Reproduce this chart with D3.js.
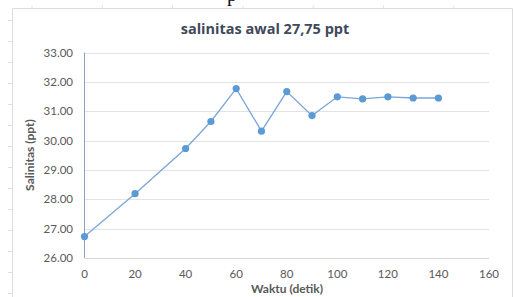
<!DOCTYPE html>
<html>
<head>
<meta charset="utf-8">
<script src="https://cdn.jsdelivr.net/npm/d3@7"></script>
<style>
  body { margin: 0; background: #fff; }
  text { font-family: Lato, "Open Sans", sans-serif; }
</style>
</head>
<body>
<script>
// data
var waktu = [0, 20, 40, 50, 60, 70, 80, 90, 100, 110, 120, 130, 140];
var salinitas = [26.73, 28.19, 29.73, 30.65, 31.77, 30.32, 31.67, 30.85, 31.49, 31.42, 31.49, 31.45, 31.45];
var xTicks = [0, 20, 40, 60, 80, 100, 120, 140, 160];
var yTicks = [26, 27, 28, 29, 30, 31, 32, 33];
var title = "salinitas awal 27,75 ppt";
var xTitle = "Waktu (detik)";
var yTitle = "Salinitas (ppt)";

var width = 513, height = 297;

var svg = d3.select("body").append("svg")
    .attr("width", width)
    .attr("height", height);

// faint frame of the chart object
svg.append("path")
    .attr("d", "M12.5,297 V8.5 H512.5 V297")
    .attr("fill", "none")
    .attr("stroke", "#dcdcdc");

// little ruler marks outside the frame
svg.selectAll(".rl")
    .data(d3.range(20, 297, 21))
    .enter().append("line")
    .attr("x1", 8).attr("x2", 12)
    .attr("y1", d => d + 0.5).attr("y2", d => d + 0.5)
    .attr("stroke", "#e0e0e0");
svg.selectAll(".rt")
    .data(d3.range(32, 513, 70.3))
    .enter().append("line")
    .attr("x1", d => d).attr("x2", d => d)
    .attr("y1", 5).attr("y2", 8)
    .attr("stroke", "#e4e4e4");

// descender of a letter from the text above the chart
svg.append("text")
    .attr("x", 227).attr("y", 1)
    .style("font-family", "'Liberation Serif', serif")
    .attr("font-size", 20)
    .attr("fill", "#111")
    .text("p");

var x = d3.scaleLinear().domain([0, 160]).range([84.5, 489]);
var y = d3.scaleLinear().domain([26, 33]).range([258, 52.5]);

// gridlines
svg.append("g")
    .selectAll("line")
    .data(yTicks.slice(1))
    .enter().append("line")
    .attr("x1", x(0)).attr("x2", x(160))
    .attr("y1", d => Math.round(y(d)) + 0.5)
    .attr("y2", d => Math.round(y(d)) + 0.5)
    .attr("stroke", "#e3e3e3");

// bottom axis line
svg.append("line")
    .attr("x1", x(0)).attr("x2", x(160))
    .attr("y1", Math.round(y(26)) + 0.5).attr("y2", Math.round(y(26)) + 0.5)
    .attr("stroke", "#d6d6d6");

// left axis line
svg.append("line")
    .attr("x1", x(0)).attr("x2", x(0))
    .attr("y1", y(33)).attr("y2", y(26))
    .attr("stroke", "#8ea2bd");

// tick labels
svg.append("g")
    .selectAll("text")
    .data(yTicks)
    .enter().append("text")
    .attr("x", 73)
    .attr("y", d => y(d) + 4)
    .attr("text-anchor", "end")
    .attr("font-size", 11.5)
    .attr("fill", "#595959")
    .text(d => d3.format(".2f")(d));

svg.append("g")
    .selectAll("text")
    .data(xTicks)
    .enter().append("text")
    .attr("x", d => x(d))
    .attr("y", 278)
    .attr("text-anchor", "middle")
    .attr("font-size", 11.5)
    .attr("fill", "#595959")
    .text(d => d);

// titles
svg.append("text")
    .attr("x", 265).attr("y", 34)
    .attr("text-anchor", "middle")
    .style("font-family", "'Open Sans', sans-serif")
    .attr("font-size", 14.5)
    .attr("font-weight", "bold")
    .attr("fill", "#404a5a")
    .text(title);

svg.append("text")
    .attr("x", 287).attr("y", 293)
    .attr("text-anchor", "middle")
    .attr("font-size", 12)
    .attr("font-weight", "bold")
    .attr("fill", "#595959")
    .text(xTitle);

svg.append("text")
    .attr("transform", "translate(34,155) rotate(-90)")
    .attr("text-anchor", "middle")
    .attr("font-size", 12)
    .attr("font-weight", "bold")
    .attr("fill", "#595959")
    .text(yTitle);

// series
var pts = waktu.map((d, i) => [d, salinitas[i]]);

svg.append("path")
    .datum(pts)
    .attr("fill", "none")
    .attr("stroke", "#7aa6d6")
    .attr("stroke-width", 1.3)
    .attr("d", d3.line().x(d => x(d[0])).y(d => y(d[1])));

svg.append("g")
    .selectAll("circle")
    .data(pts)
    .enter().append("circle")
    .attr("cx", d => x(d[0]))
    .attr("cy", d => y(d[1]))
    .attr("r", 3.6)
    .attr("fill", "#5b9bd5");
</script>
</body>
</html>
